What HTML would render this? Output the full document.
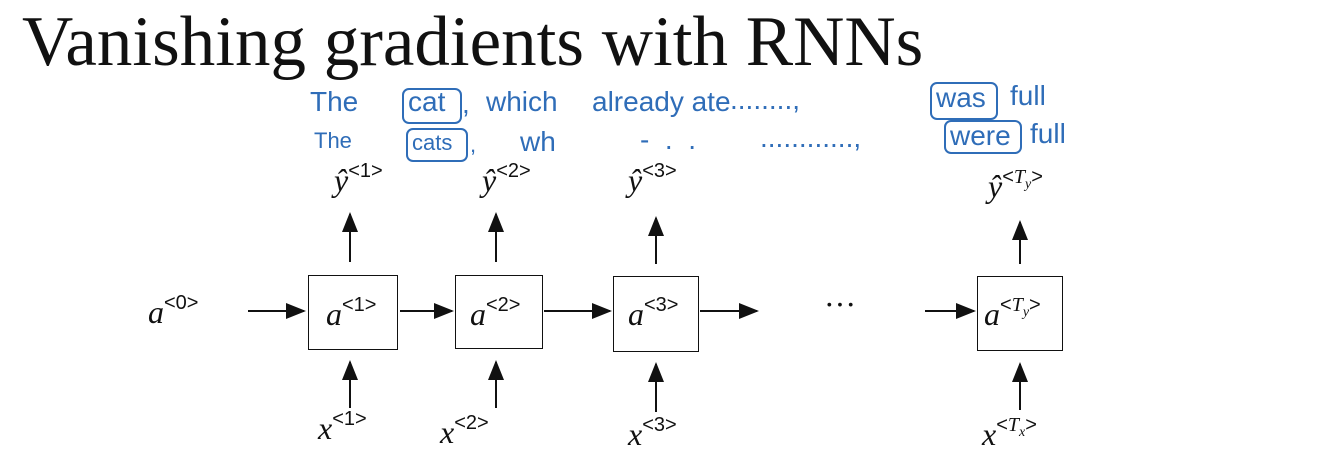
<!DOCTYPE html>
<html><head><meta charset="utf-8"><style>
body{margin:0;width:1318px;height:468px;background:#fff;position:relative;overflow:hidden;font-family:"Liberation Serif",serif}
.a{position:absolute}
.t{font-size:71px;left:22px;top:2px;color:#111;white-space:nowrap}
.hw{color:#2f6db8;font-family:"Liberation Sans",sans-serif;font-size:28px;white-space:nowrap}
.bx{border:2px solid #2f6db8;border-radius:7px}
.box{border:1.6px solid #111;background:#fff}
.m{font-style:italic;font-size:32px;white-space:nowrap;color:#111}
.m sup{font-style:normal;font-size:20px;font-family:"Liberation Sans",sans-serif;vertical-align:14px}
.m sup i{font-family:"Liberation Serif",serif}
</style></head><body>
<div class="a t">Vanishing gradients with RNNs</div>

<div class="a hw" style="left:310px;top:86px">The</div>
<div class="a hw" style="left:408px;top:86px">cat</div>
<div class="a hw" style="left:462px;top:88px">,</div>
<div class="a hw" style="left:486px;top:86px">which</div>
<div class="a hw" style="left:592px;top:86px">already ate</div>
<div class="a hw" style="left:730px;top:84px">........,</div>
<div class="a hw" style="left:936px;top:82px">was</div>
<div class="a hw" style="left:1010px;top:80px">full</div>

<div class="a hw" style="left:314px;top:128px;font-size:22px">The</div>
<div class="a hw" style="left:412px;top:130px;font-size:22px">cats</div>
<div class="a hw" style="left:470px;top:132px;font-size:22px">,</div>
<div class="a hw" style="left:520px;top:126px">wh</div>
<div class="a hw" style="left:640px;top:124px">- &nbsp;.&nbsp; .</div>
<div class="a hw" style="left:760px;top:122px">............,</div>
<div class="a hw" style="left:950px;top:120px">were</div>
<div class="a hw" style="left:1030px;top:118px">full</div>

<div class="a bx" style="left:402px;top:88px;width:56px;height:32px"></div>
<div class="a bx" style="left:406px;top:128px;width:58px;height:30px"></div>
<div class="a bx" style="left:930px;top:82px;width:64px;height:34px"></div>
<div class="a bx" style="left:944px;top:120px;width:74px;height:30px"></div>

<svg class="a" style="left:0;top:0" width="1318" height="468">
<defs><marker id="ah" markerWidth="10" markerHeight="8" refX="9" refY="4" orient="auto"><path d="M0,0 L10,4 L0,8 z" fill="#111"/></marker></defs>
<g stroke="#111" stroke-width="2" marker-end="url(#ah)">
<line x1="248" y1="311" x2="304" y2="311"/>
<line x1="400" y1="311" x2="452" y2="311"/>
<line x1="544" y1="311" x2="610" y2="311"/>
<line x1="700" y1="311" x2="757" y2="311"/>
<line x1="925" y1="311" x2="974" y2="311"/>
<line x1="350" y1="262" x2="350" y2="214"/>
<line x1="496" y1="262" x2="496" y2="214"/>
<line x1="656" y1="264" x2="656" y2="218"/>
<line x1="1020" y1="264" x2="1020" y2="222"/>
<line x1="350" y1="408" x2="350" y2="362"/>
<line x1="496" y1="408" x2="496" y2="362"/>
<line x1="656" y1="412" x2="656" y2="364"/>
<line x1="1020" y1="410" x2="1020" y2="364"/>
</g></svg>

<div class="a box" style="left:308px;top:275px;width:88px;height:73px"></div>
<div class="a box" style="left:455px;top:275px;width:86px;height:72px"></div>
<div class="a box" style="left:613px;top:276px;width:84px;height:74px"></div>
<div class="a box" style="left:977px;top:276px;width:84px;height:73px"></div>

<div class="a m" style="left:148px;top:292px">a<sup>&lt;0&gt;</sup></div>
<div class="a m" style="left:326px;top:294px">a<sup>&lt;1&gt;</sup></div>
<div class="a m" style="left:470px;top:294px">a<sup>&lt;2&gt;</sup></div>
<div class="a m" style="left:628px;top:294px">a<sup>&lt;3&gt;</sup></div>
<div class="a m" style="left:984px;top:294px">a<sup>&lt;<i>T<sub style="font-size:14px">y</sub></i>&gt;</sup></div>
<div class="a m" style="left:824px;top:286px;font-style:normal">···</div>

<div class="a m" style="left:334px;top:160px">ŷ<sup>&lt;1&gt;</sup></div>
<div class="a m" style="left:482px;top:160px">ŷ<sup>&lt;2&gt;</sup></div>
<div class="a m" style="left:628px;top:160px">ŷ<sup>&lt;3&gt;</sup></div>
<div class="a m" style="left:988px;top:166px">ŷ<sup>&lt;<i>T<sub style="font-size:14px">y</sub></i>&gt;</sup></div>

<div class="a m" style="left:318px;top:408px">x<sup>&lt;1&gt;</sup></div>
<div class="a m" style="left:440px;top:412px">x<sup>&lt;2&gt;</sup></div>
<div class="a m" style="left:628px;top:414px">x<sup>&lt;3&gt;</sup></div>
<div class="a m" style="left:982px;top:414px">x<sup>&lt;<i>T<sub style="font-size:14px">x</sub></i>&gt;</sup></div>
</body></html>
